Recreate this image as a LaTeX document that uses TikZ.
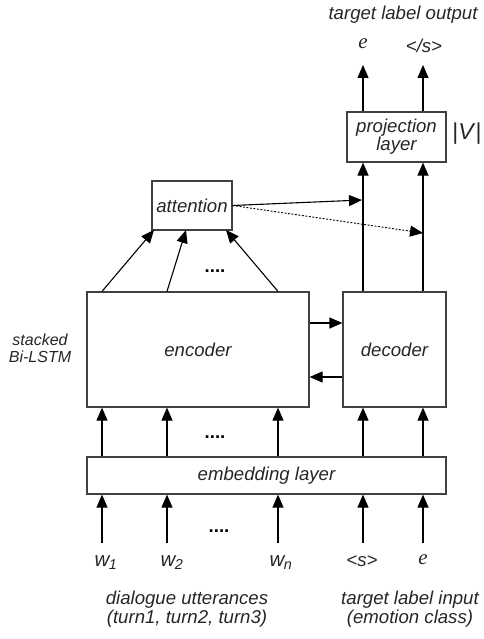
\documentclass[tikz,border=0pt]{standalone}
\usepackage{fontspec}
\setmainfont{Liberation Sans}
\newfontfamily\serifit{Liberation Serif}
\usetikzlibrary{arrows.meta}
\begin{document}
\begin{tikzpicture}[x=1pt,y=-1pt,
  txt/.style={font=\itshape\fontsize{18.6}{21}\selectfont, text=black!85},
  small/.style={font=\itshape\fontsize{16}{19}\selectfont, text=black!85},
  tok/.style={font=\itshape\fontsize{20.5}{23}\selectfont, text=black!85},
  box/.style={draw=black!75, line width=1.2pt, inner sep=0pt, txt, align=center},
  arr/.style={line width=1.1pt, -{Triangle[length=13pt,width=11pt]}},
  dots/.style={font=\bfseries\fontsize{18.6}{21}\selectfont},
  elabel/.style={font=\serifit\itshape\fontsize{21}{24}\selectfont, text=black!85}
]
\useasboundingbox (0,0) rectangle (483,639);

% boxes
\node[box, minimum width=222pt, minimum height=115pt] (enc) at (198,349.5) {encoder};
\node[box, minimum width=103pt, minimum height=115pt] (dec) at (394.5,349.5) {decoder};
\node[box, minimum width=359pt, minimum height=37pt] (emb) at (266.5,475.5) {embedding layer};
\node[box, minimum width=80pt, minimum height=49pt] (att) at (192,205.5) {attention};
\node[box, minimum width=99pt, minimum height=50pt] (proj) at (396.5,137) {projection\\[-3pt]layer};

% side labels
\node[small, align=center] (bilstm) at (40,348) {stacked\\[-2pt]Bi-LSTM};
\node[font=\fontsize{23}{26}\selectfont, text=black!85] (vsize) at (467,134) {|\textit{V}|};
\node[txt] (outlbl) at (403,15) {target label output};
\node[txt, align=center] (dlg) at (187,609) {dialogue utterances\\[-2pt](turn1, turn2, turn3)};
\node[txt, align=center] (tgt) at (410,609) {target label input\\[-2pt](emotion class)};

% columns
\coordinate (c1) at (102,0);
\coordinate (c2) at (167,0);
\coordinate (c3) at (278,0);
\coordinate (c4) at (363,0);
\coordinate (c5) at (423,0);

% input tokens
\node[tok] (w1) at (106,563) {w\kern-0.5pt\textsubscript{1}};
\node[tok] (w2) at (172,563) {w\kern-0.5pt\textsubscript{2}};
\node[tok] (wn) at (281,563) {w\kern-0.5pt\textsubscript{n}};
\node[txt] (s) at (362,561) {<s>};
\node[elabel] (ein) at (423,560) {e};
\coordinate (b1) at (102,543);
\coordinate (b2) at (167,543);
\coordinate (b3) at (278,543);
\coordinate (b4) at (363,543);
\coordinate (b5) at (423,543);
\node[dots] (d1) at (219,531) {....};

\foreach \b in {b1,b2,b3,b4,b5} {\draw[arr] (\b) -- (emb.south -| \b);}

% embedding -> encoder/decoder
\node[dots] (d2) at (215,437) {....};
\foreach \c/\t in {c1/enc,c2/enc,c3/enc,c4/dec,c5/dec} {\draw[arr] (emb.north -| \c) -- (\t.south -| \c);}

% encoder <-> decoder
\draw[arr] (enc.east |- 0,323) -- (dec.west |- 0,323);
\draw[arr] (dec.west |- 0,377) -- (enc.east |- 0,377);

% encoder -> attention
\coordinate (a1) at (154,230);
\coordinate (a2) at (186,230);
\coordinate (a3) at (226,230);
\draw[arr] (enc.north -| c1) -- (a1);
\draw[arr] (enc.north -| c2) -- (a2);
\draw[arr] (enc.north -| c3) -- (a3);
\node[dots] (d3) at (215,271) {....};

% decoder -> projection
\draw[arr] (dec.north -| c4) -- (proj.south -| c4);
\draw[arr] (dec.north -| c5) -- (proj.south -| c5);

% attention -> decoder streams
\coordinate (h1) at (362,200);
\coordinate (h2) at (423,233);
\draw[arr] (att.east) -- (h1);
\draw[arr, dash pattern=on 2pt off 1.5pt, line width=0.9pt] (att.east) -- (h2);

% outputs
\coordinate (t1) at (363,65);
\coordinate (t2) at (423,65);
\draw[arr] (proj.north -| c4) -- (t1);
\draw[arr] (proj.north -| c5) -- (t2);
\node[elabel] (eout) at (363,44) {e};
\node[txt] (send) at (424,46) {</s>};
\end{tikzpicture}
\end{document}
